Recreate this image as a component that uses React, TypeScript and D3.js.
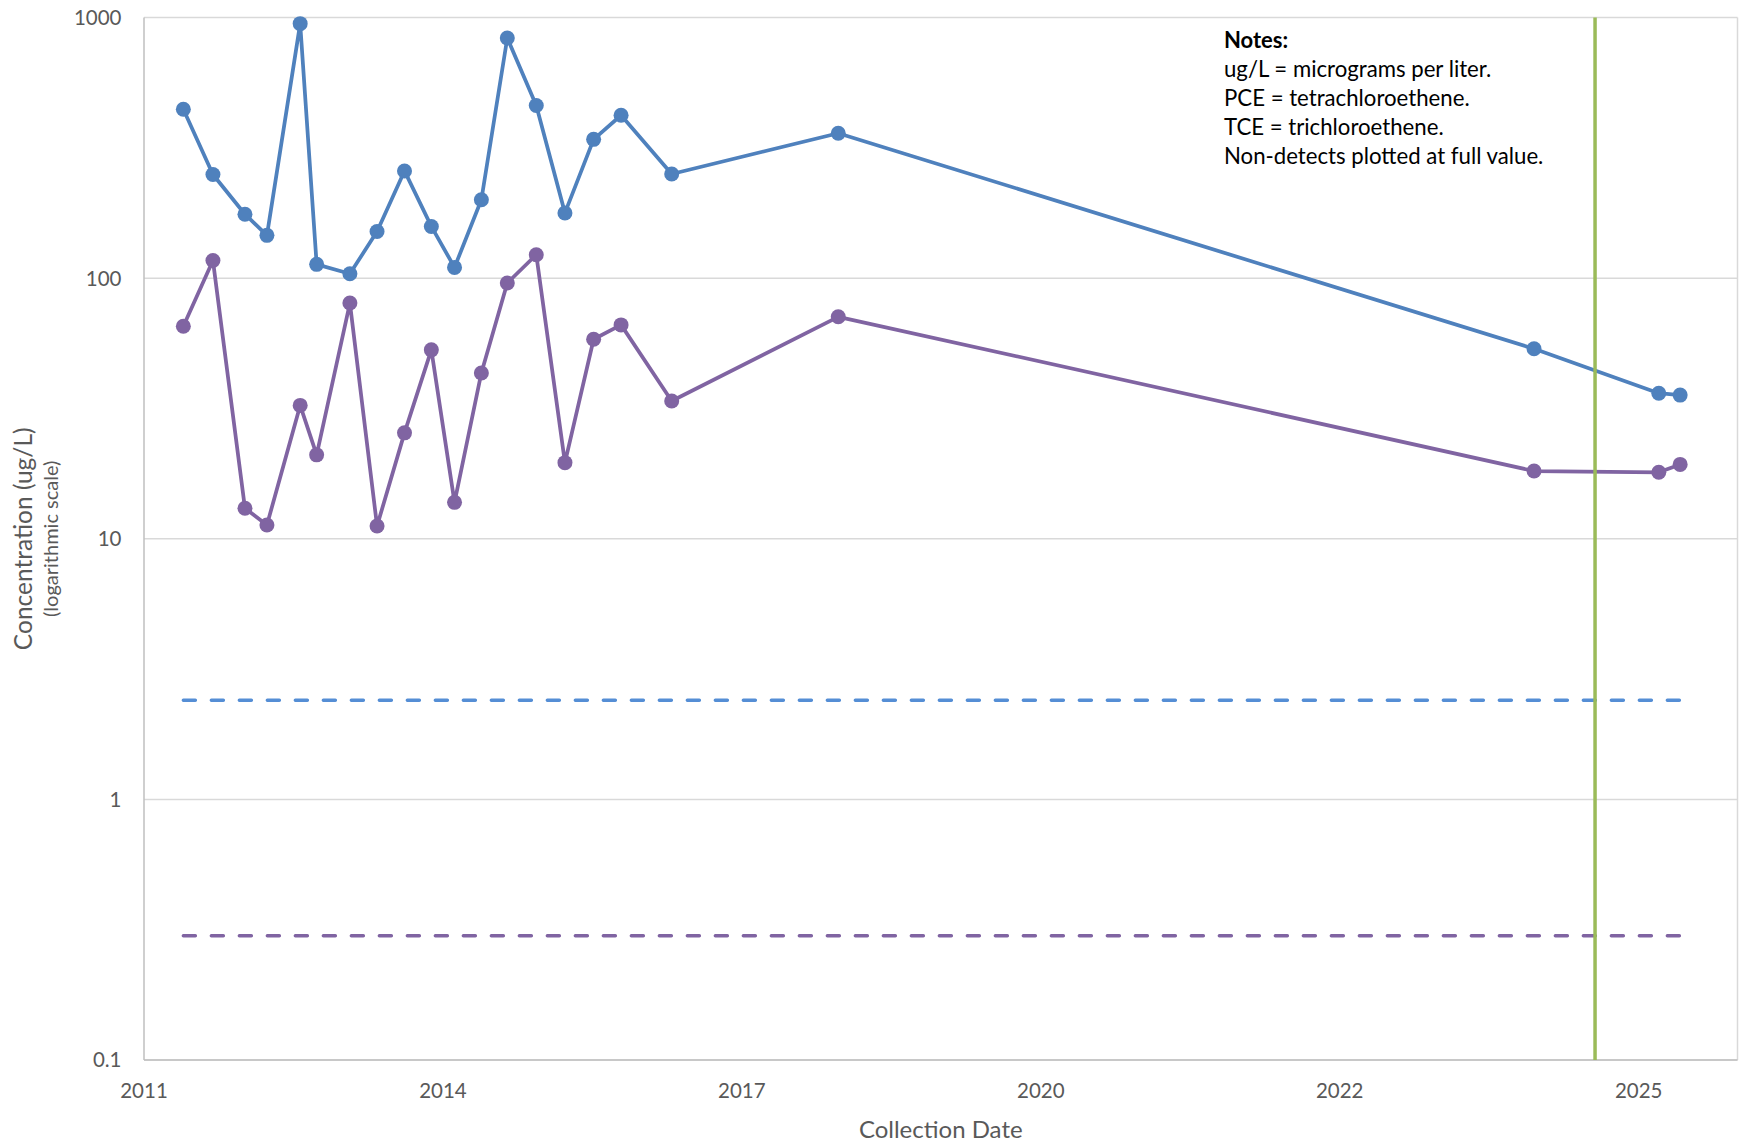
import React from "react";
import * as d3 from "d3";

// Sampling events and measured concentrations (ug/L)
const sampleDates = [
  "2012-04-27", "2012-08-02", "2012-11-15", "2013-01-26", "2013-05-15",
  "2013-07-08", "2013-10-25", "2014-01-22", "2014-04-22", "2014-07-19",
  "2014-10-03", "2014-12-30", "2015-03-25", "2015-06-28", "2015-09-30",
  "2016-01-02", "2016-04-01", "2016-09-14", "2018-03-14", "2024-06-11",
  "2025-07-25", "2025-10-03",
];
const pceValues = [
  445, 250, 176, 146, 948, 113, 104, 151, 258, 158, 110,
  200, 835, 460, 178, 341, 422, 251, 360, 53.6, 36.2, 35.6,
];
const tceValues = [
  65.4, 117, 13.1, 11.3, 32.5, 21.0, 80.3, 11.2, 25.5, 53.1, 13.8,
  43.3, 95.9, 123, 19.6, 58.3, 66.2, 33.8, 71.1, 18.2, 18.0, 19.3,
];

// Screening levels drawn as dashed reference lines
const pceScreening = 2.4;
const tceScreening = 0.3;

// Event marker (vertical line)
const eventDate = "2024-12-28";

// Axis settings
const axisStart = "2011-12-20";
const axisEnd = "2026-04-09";
const majorUnitDays = 980;
const majorTickCount = 6;
const yTicks = [0.1, 1, 10, 100, 1000];

const noteTitle = "Notes:";
const noteLines = [
  "ug/L = micrograms per liter.",
  "PCE = tetrachloroethene.",
  "TCE = trichloroethene.",
  "Non-detects plotted at full value.",
];

const W = 1739;
const H = 1147;
const plot = { left: 144, right: 1737.5, top: 17.6, bottom: 1060 };

const FONT = "Lato, 'Open Sans', sans-serif";
const TEXT = "#595959";
const GRID = "#D9D9D9";
const AXIS = "#BFBFBF";
const BLUE = "#4F81BD";
const BLUE_DASH = "#558ED5";
const PURPLE = "#8064A2";
const GREEN = "#9BBB59";

const parse = d3.utcParse("%Y-%m-%d");

export default function App() {
  const x = d3
    .scaleUtc()
    .domain([parse(axisStart)!, parse(axisEnd)!])
    .range([plot.left, plot.right]);
  const y = d3.scaleLog().domain([0.1, 1000]).range([plot.bottom, plot.top]);

  const dates = sampleDates.map((d) => parse(d)!);
  const xTicks = d3
    .range(majorTickCount)
    .map((k) => d3.utcDay.offset(parse(axisStart)!, k * majorUnitDays));
  const fmtYear = d3.utcFormat("%Y");

  const line = d3
    .line<[Date, number]>()
    .x((d) => x(d[0]))
    .y((d) => y(d[1]));

  const pce: [Date, number][] = dates.map((d, i) => [d, pceValues[i]]);
  const tce: [Date, number][] = dates.map((d, i) => [d, tceValues[i]]);
  const first = dates[0];
  const last = dates[dates.length - 1];

  const series = [
    { data: pce, color: BLUE },
    { data: tce, color: PURPLE },
  ];

  const midY = (plot.top + plot.bottom) / 2;
  const midX = (plot.left + plot.right) / 2;
  const ev = x(parse(eventDate)!);

  return (
    <>
      <style>{"body{margin:0}"}</style>
      <svg width={W} height={H} style={{ display: "block", background: "#fff" }} fontFamily={FONT}>
        {/* horizontal gridlines */}
        {yTicks.map((t) => (
          <line key={t} x1={plot.left} x2={plot.right} y1={y(t)} y2={y(t)} stroke={GRID} strokeWidth={1.5} />
        ))}
        <line x1={plot.right} x2={plot.right} y1={plot.top} y2={plot.bottom} stroke={GRID} strokeWidth={1.5} />
        {/* axes */}
        <line x1={plot.left} x2={plot.left} y1={plot.top} y2={plot.bottom} stroke={AXIS} strokeWidth={1.5} />
        <line x1={plot.left} x2={plot.right} y1={plot.bottom} y2={plot.bottom} stroke={AXIS} strokeWidth={1.5} />

        {/* y tick labels */}
        {yTicks.map((t) => (
          <text key={t} x={121.5} y={y(t)} dy="0.36em" textAnchor="end" fontSize={20.5} fill={TEXT}>
            {String(t)}
          </text>
        ))}
        {/* x tick labels */}
        {xTicks.map((t, i) => (
          <text key={i} x={x(t)} y={1098.3} textAnchor="middle" fontSize={20.5} fill={TEXT}>
            {fmtYear(t)}
          </text>
        ))}

        {/* axis titles */}
        <text x={midX} y={1138.3} textAnchor="middle" fontSize={24} fill={TEXT}>
          Collection Date
        </text>
        <text transform={`translate(32,${midY}) rotate(-90)`} textAnchor="middle" fontSize={24.5} fill={TEXT}>
          Concentration (ug/L)
        </text>
        <text transform={`translate(58,${midY}) rotate(-90)`} textAnchor="middle" fontSize={20} fill={TEXT}>
          (logarithmic scale)
        </text>

        {/* screening levels */}
        <line x1={x(first)} x2={x(last)} y1={y(pceScreening)} y2={y(pceScreening)} stroke={BLUE_DASH}
          strokeWidth={3.5} strokeDasharray="12 16" strokeLinecap="round" />
        <line x1={x(first)} x2={x(last)} y1={y(tceScreening)} y2={y(tceScreening)} stroke={PURPLE}
          strokeWidth={3.5} strokeDasharray="12 16" strokeLinecap="round" />

        {/* concentration series */}
        {series.map((s, si) => (
          <g key={si}>
            <path d={line(s.data) ?? ""} fill="none" stroke={s.color} strokeWidth={3.75} strokeLinejoin="round" />
            {s.data.map((d, i) => (
              <circle key={i} cx={x(d[0])} cy={y(d[1])} r={7.5} fill={s.color} />
            ))}
          </g>
        ))}

        {/* event line */}
        <line x1={ev} x2={ev} y1={plot.top} y2={plot.bottom} stroke={GREEN} strokeWidth={3.5} />

        {/* notes */}
        <text x={1224} y={47.5} fontSize={22} fontWeight="bold" fill="#000">
          {noteTitle}
        </text>
        {noteLines.map((l, i) => (
          <text key={i} x={1224} y={47.5 + 29 * (i + 1)} fontSize={22.2} fill="#000">
            {l}
          </text>
        ))}
      </svg>
    </>
  );
}
